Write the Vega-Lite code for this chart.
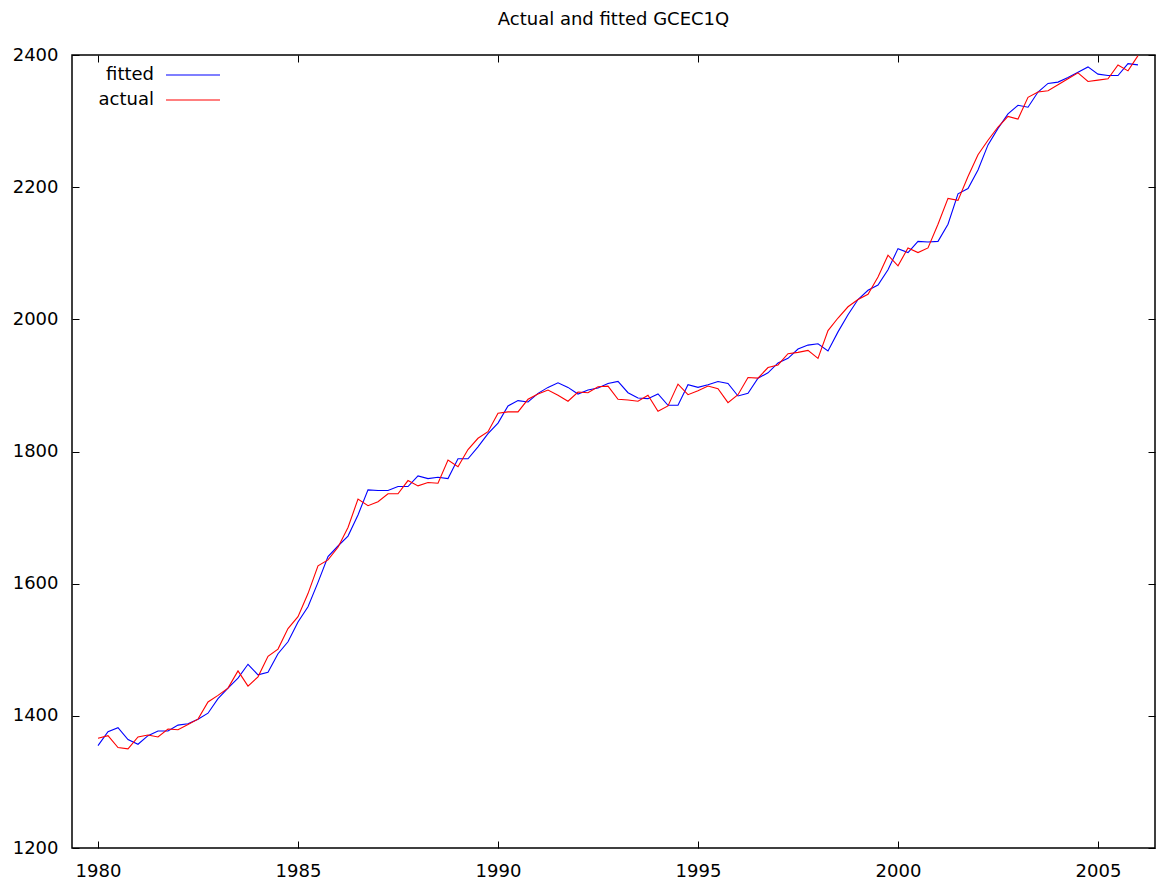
{
  "$schema": "https://vega.github.io/schema/vega-lite/v6.json",
  "width": 1083,
  "height": 793,
  "autosize": "none",
  "padding": {"left": 72, "top": 55, "right": 1, "bottom": 40},
  "background": "white",
  "title": {"text": "Actual and fitted GCEC1Q", "font": "DejaVu Sans", "fontSize": 18, "fontWeight": "normal", "color": "black", "anchor": "middle", "offset": 17},
  "config": {
    "view": {"stroke": "black", "strokeWidth": 1.5},
    "axis": {"domain": false, "grid": false, "ticks": true, "tickSize": -7, "tickColor": "black", "tickWidth": 1, "labelFont": "DejaVu Sans", "labelFontSize": 18, "labelColor": "black", "title": null, "labelPadding": 21},
    "legend": {"labelFont": "DejaVu Sans", "labelFontSize": 18, "labelColor": "black"}
  },
  "data": {"values": [
    {"t": 1980.00, "fitted": 1355, "actual": 1366},
    {"t": 1980.25, "fitted": 1376, "actual": 1370},
    {"t": 1980.50, "fitted": 1382, "actual": 1352},
    {"t": 1980.75, "fitted": 1364, "actual": 1350},
    {"t": 1981.00, "fitted": 1357, "actual": 1368},
    {"t": 1981.25, "fitted": 1370, "actual": 1371},
    {"t": 1981.50, "fitted": 1377, "actual": 1368},
    {"t": 1981.75, "fitted": 1377, "actual": 1380},
    {"t": 1982.00, "fitted": 1386, "actual": 1379},
    {"t": 1982.25, "fitted": 1388, "actual": 1387},
    {"t": 1982.50, "fitted": 1395, "actual": 1395},
    {"t": 1982.75, "fitted": 1404, "actual": 1421},
    {"t": 1983.00, "fitted": 1426, "actual": 1431},
    {"t": 1983.25, "fitted": 1442, "actual": 1442},
    {"t": 1983.50, "fitted": 1457, "actual": 1468},
    {"t": 1983.75, "fitted": 1478, "actual": 1445},
    {"t": 1984.00, "fitted": 1462, "actual": 1459},
    {"t": 1984.25, "fitted": 1466, "actual": 1490},
    {"t": 1984.50, "fitted": 1494, "actual": 1501},
    {"t": 1984.75, "fitted": 1512, "actual": 1532},
    {"t": 1985.00, "fitted": 1542, "actual": 1550},
    {"t": 1985.25, "fitted": 1565, "actual": 1585},
    {"t": 1985.50, "fitted": 1602, "actual": 1627},
    {"t": 1985.75, "fitted": 1641, "actual": 1636},
    {"t": 1986.00, "fitted": 1657, "actual": 1655},
    {"t": 1986.25, "fitted": 1672, "actual": 1685},
    {"t": 1986.50, "fitted": 1704, "actual": 1728},
    {"t": 1986.75, "fitted": 1742, "actual": 1718},
    {"t": 1987.00, "fitted": 1741, "actual": 1724},
    {"t": 1987.25, "fitted": 1741, "actual": 1736},
    {"t": 1987.50, "fitted": 1747, "actual": 1736},
    {"t": 1987.75, "fitted": 1747, "actual": 1756},
    {"t": 1988.00, "fitted": 1763, "actual": 1748},
    {"t": 1988.25, "fitted": 1759, "actual": 1753},
    {"t": 1988.50, "fitted": 1761, "actual": 1752},
    {"t": 1988.75, "fitted": 1759, "actual": 1787},
    {"t": 1989.00, "fitted": 1789, "actual": 1777},
    {"t": 1989.25, "fitted": 1789, "actual": 1803},
    {"t": 1989.50, "fitted": 1807, "actual": 1820},
    {"t": 1989.75, "fitted": 1827, "actual": 1830},
    {"t": 1990.00, "fitted": 1843, "actual": 1858},
    {"t": 1990.25, "fitted": 1869, "actual": 1860},
    {"t": 1990.50, "fitted": 1877, "actual": 1860},
    {"t": 1990.75, "fitted": 1875, "actual": 1879},
    {"t": 1991.00, "fitted": 1888, "actual": 1887},
    {"t": 1991.25, "fitted": 1897, "actual": 1893},
    {"t": 1991.50, "fitted": 1904, "actual": 1885},
    {"t": 1991.75, "fitted": 1897, "actual": 1876},
    {"t": 1992.00, "fitted": 1887, "actual": 1890},
    {"t": 1992.25, "fitted": 1893, "actual": 1889},
    {"t": 1992.50, "fitted": 1896, "actual": 1898},
    {"t": 1992.75, "fitted": 1903, "actual": 1899},
    {"t": 1993.00, "fitted": 1906, "actual": 1879},
    {"t": 1993.25, "fitted": 1889, "actual": 1878},
    {"t": 1993.50, "fitted": 1881, "actual": 1876},
    {"t": 1993.75, "fitted": 1880, "actual": 1885},
    {"t": 1994.00, "fitted": 1887, "actual": 1861},
    {"t": 1994.25, "fitted": 1870, "actual": 1869},
    {"t": 1994.50, "fitted": 1870, "actual": 1902},
    {"t": 1994.75, "fitted": 1901, "actual": 1886},
    {"t": 1995.00, "fitted": 1897, "actual": 1892},
    {"t": 1995.25, "fitted": 1901, "actual": 1899},
    {"t": 1995.50, "fitted": 1906, "actual": 1895},
    {"t": 1995.75, "fitted": 1903, "actual": 1874},
    {"t": 1996.00, "fitted": 1884, "actual": 1886},
    {"t": 1996.25, "fitted": 1888, "actual": 1912},
    {"t": 1996.50, "fitted": 1911, "actual": 1911},
    {"t": 1996.75, "fitted": 1919, "actual": 1927},
    {"t": 1997.00, "fitted": 1934, "actual": 1931},
    {"t": 1997.25, "fitted": 1941, "actual": 1948},
    {"t": 1997.50, "fitted": 1955, "actual": 1950},
    {"t": 1997.75, "fitted": 1961, "actual": 1953},
    {"t": 1998.00, "fitted": 1963, "actual": 1941},
    {"t": 1998.25, "fitted": 1952, "actual": 1983},
    {"t": 1998.50, "fitted": 1981, "actual": 2002},
    {"t": 1998.75, "fitted": 2007, "actual": 2019},
    {"t": 1999.00, "fitted": 2030, "actual": 2030},
    {"t": 1999.25, "fitted": 2044, "actual": 2038},
    {"t": 1999.50, "fitted": 2052, "actual": 2064},
    {"t": 1999.75, "fitted": 2075, "actual": 2097},
    {"t": 2000.00, "fitted": 2107, "actual": 2081},
    {"t": 2000.25, "fitted": 2101, "actual": 2108},
    {"t": 2000.50, "fitted": 2118, "actual": 2101},
    {"t": 2000.75, "fitted": 2117, "actual": 2108},
    {"t": 2001.00, "fitted": 2118, "actual": 2144},
    {"t": 2001.25, "fitted": 2144, "actual": 2183},
    {"t": 2001.50, "fitted": 2190, "actual": 2180},
    {"t": 2001.75, "fitted": 2198, "actual": 2216},
    {"t": 2002.00, "fitted": 2226, "actual": 2249},
    {"t": 2002.25, "fitted": 2264, "actual": 2271},
    {"t": 2002.50, "fitted": 2289, "actual": 2291},
    {"t": 2002.75, "fitted": 2311, "actual": 2307},
    {"t": 2003.00, "fitted": 2324, "actual": 2303},
    {"t": 2003.25, "fitted": 2321, "actual": 2336},
    {"t": 2003.50, "fitted": 2344, "actual": 2344},
    {"t": 2003.75, "fitted": 2357, "actual": 2346},
    {"t": 2004.00, "fitted": 2359, "actual": 2355},
    {"t": 2004.25, "fitted": 2366, "actual": 2364},
    {"t": 2004.50, "fitted": 2374, "actual": 2373},
    {"t": 2004.75, "fitted": 2382, "actual": 2360},
    {"t": 2005.00, "fitted": 2371, "actual": 2362},
    {"t": 2005.25, "fitted": 2369, "actual": 2364},
    {"t": 2005.50, "fitted": 2369, "actual": 2385},
    {"t": 2005.75, "fitted": 2387, "actual": 2376},
    {"t": 2006.00, "fitted": 2385, "actual": 2399}
  ]},
  "transform": [{"fold": ["fitted", "actual"], "as": ["series", "value"]}],
  "layer": [
    {
      "transform": [{"filter": "datum.series == 'fitted'"}],
      "mark": {"type": "line", "strokeWidth": 1.1},
      "encoding": {
        "x": {"field": "t", "type": "quantitative", "scale": {"domain": [1979.35, 2006.425], "nice": false, "zero": false}, "axis": {"orient": "bottom", "values": [1980, 1985, 1990, 1995, 2000, 2005], "format": "d"}},
        "y": {"field": "value", "type": "quantitative", "scale": {"domain": [1200, 2400], "nice": false, "zero": false}, "axis": {"orient": "left", "values": [1200, 1400, 1600, 1800, 2000, 2200, 2400], "format": "d"}},
        "color": {"field": "series", "type": "nominal", "scale": {"domain": ["fitted", "actual"], "range": ["#0000ff", "#ff0000"]},
          "legend": {"title": null, "orient": "none", "legendX": 111, "legendY": 10, "symbolType": "M-3,0H3", "symbolSize": 324, "symbolStrokeWidth": 1.1, "labelAlign": "right", "labelOffset": -49, "rowPadding": 6, "padding": 0}}
      }
    },
    {
      "transform": [{"filter": "datum.series == 'actual'"}],
      "mark": {"type": "line", "strokeWidth": 1.1},
      "encoding": {
        "x": {"field": "t", "type": "quantitative", "axis": {"orient": "top", "values": [1980, 1985, 1990, 1995, 2000, 2005], "labels": false}},
        "y": {"field": "value", "type": "quantitative", "axis": {"orient": "right", "values": [1200, 1400, 1600, 1800, 2000, 2200, 2400], "labels": false}},
        "color": {"field": "series", "type": "nominal"}
      }
    }
  ],
  "resolve": {"axis": {"x": "independent", "y": "independent"}}
}
